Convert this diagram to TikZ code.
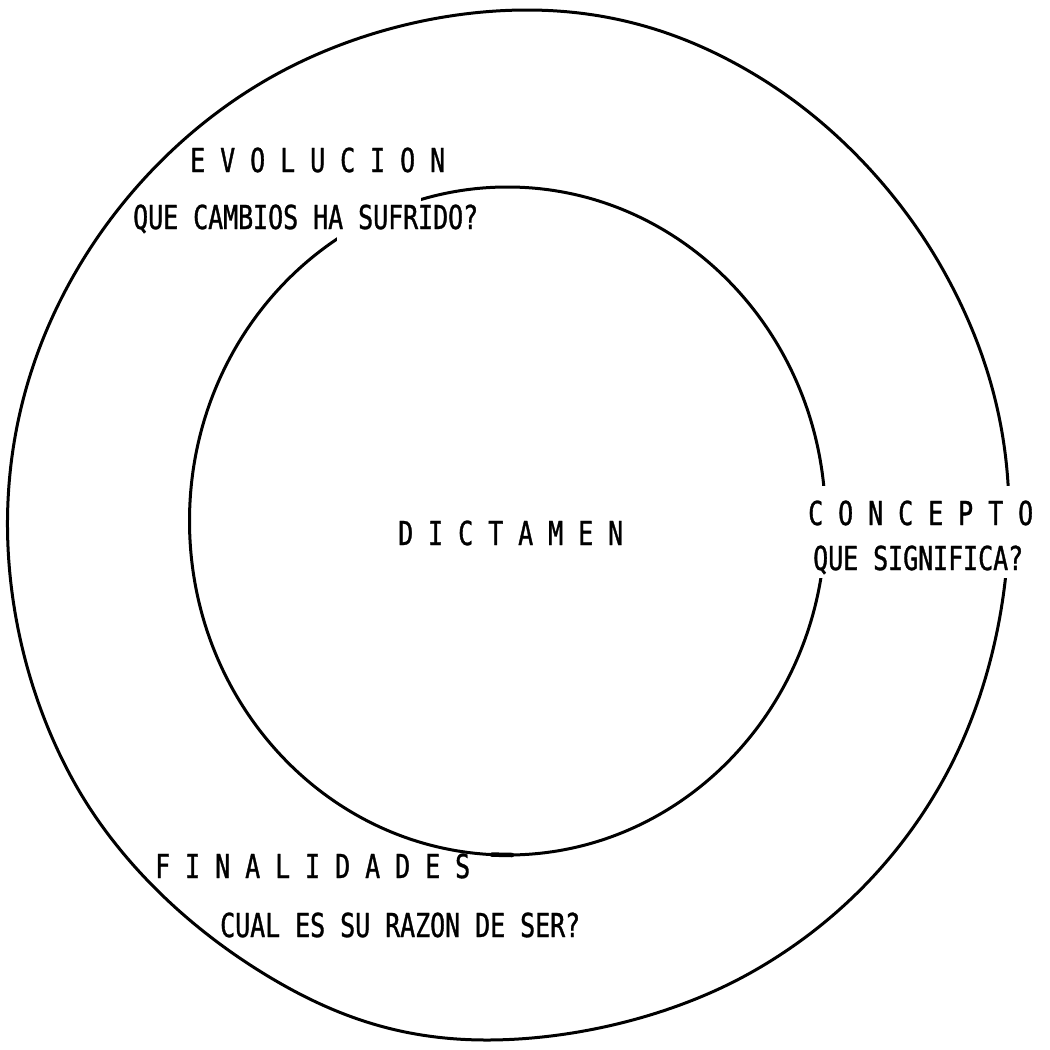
\documentclass[tikz,border=0pt]{standalone}
\usepackage{fontspec}
\newfontfamily\twfont[FakeStretch=0.755, FakeBold=1]{DejaVu Sans Mono}
\begin{document}
\begin{tikzpicture}[x=1pt,y=-1pt,
  ring/.style={line width=3pt, line cap=round, line join=round},
  lbl/.style={anchor=base west, inner sep=0pt, font=\twfont\fontsize{33}{45}\selectfont}]
\useasboundingbox (0,0) rectangle (1050,1050);
\fill[white] (0,0) rectangle (1050,1050);
% outer ring (hand drawn)
\draw[ring] plot[smooth cycle, tension=0.63] coordinates {(527,10) (762,79) (942,268) (1009,515) (942,782) (752,972) (485,1040) (258,970) (74,782) (7.5,520) (78,268) (268,79)};
% inner ring
\draw[ring] (507.5,521) ellipse [x radius=318pt, y radius=334pt];
\draw[line width=4.5pt, line cap=round] (492,854.6) -- (512,855);
% gaps where the text crosses the rings
\fill[white] (337,194) rectangle (421,241);
\fill[white] (806,486) rectangle (1042,578);
% texts
\node[lbl] (evo)   at (190,172) {E V O L U C I O N};
\node[lbl] (evoq)  at (133,229) {QUE CAMBIOS HA SUFRIDO?};
\node[lbl] (dict)  at (398,545) {D I C T A M E N};
\node[lbl] (conc)  at (808,525) {C O N C E P T O};
\node[lbl] (concq) at (813,570) {QUE SIGNIFICA?};
\node[lbl] (fin)   at (155,878) {F I N A L I D A D E S};
\node[lbl] (finq)  at (220,937) {CUAL ES SU RAZON DE SER?};
\end{tikzpicture}
\end{document}
